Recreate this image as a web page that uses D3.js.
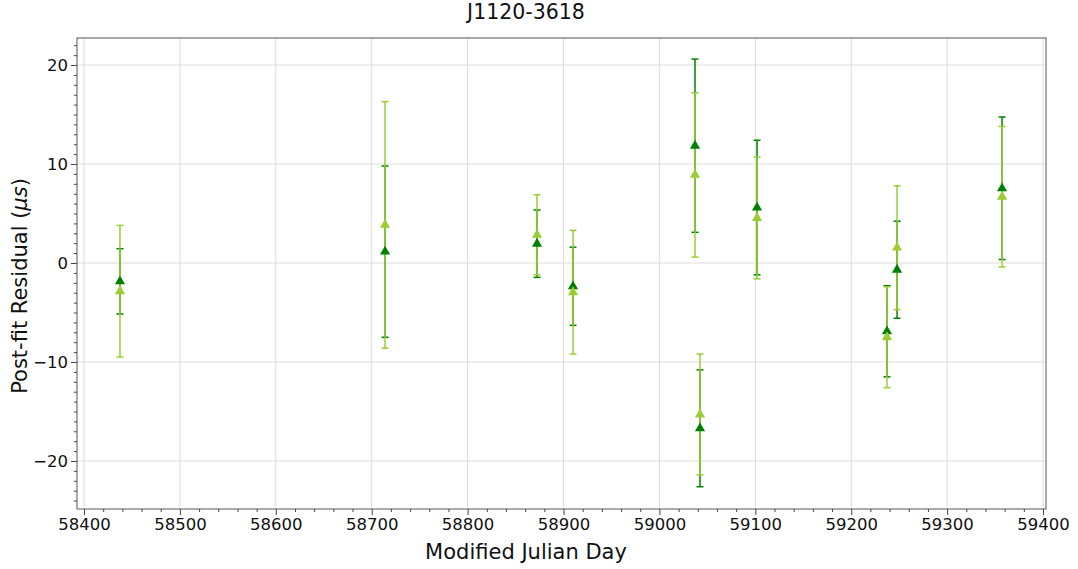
<!DOCTYPE html>
<html><head><meta charset="utf-8">
<script src="https://cdn.jsdelivr.net/npm/d3@7"></script>
<style>body{margin:0;background:#fff}svg{display:block;font-family:"DejaVu Sans",sans-serif}</style>
</head><body><svg id="c" width="1078" height="569"></svg>
<script>
const title = "J1120-3618";
const mjd = [58437.5, 58713.9, 58872.4, 58909.9, 59037.1, 59042.3, 59101.8, 59237.3, 59247.8, 59357.3];
const resGreen = [-1.85, 1.15, 1.95, -2.35, 11.85, -16.7, 5.6, -6.9, -0.68, 7.55];
const errGreen = [3.3, 8.65, 3.4, 3.95, 8.75, 5.9, 6.8, 4.6, 4.9, 7.2];
const resLight = [-2.85, 3.85, 2.85, -2.95, 8.9, -15.3, 4.55, -7.5, 1.55, 6.7];
const errLight = [6.65, 12.45, 4.05, 6.25, 8.3, 6.1, 6.15, 5.1, 6.25, 7.1];
const xTicks = [58400, 58500, 58600, 58700, 58800, 58900, 59000, 59100, 59200, 59300, 59400];
const yTicks = [-20, -10, 0, 10, 20];

const svg = d3.select("#c");
const L = 77, R = 1046, T = 38, B = 509;
const x = d3.scaleLinear().domain([58392.7, 59403.1]).range([L, R]);
const y = d3.scaleLinear().domain([-24.85, 22.73]).range([B, T]);

// grid
const g = svg.append("g");
g.selectAll(".gx").data(xTicks).enter().append("line")
  .attr("x1", d => x(d)).attr("x2", d => x(d)).attr("y1", T).attr("y2", B)
  .attr("stroke", "#dcdcdc").attr("stroke-width", 1);
g.selectAll(".gy").data(yTicks).enter().append("line")
  .attr("y1", d => y(d)).attr("y2", d => y(d)).attr("x1", L).attr("x2", R)
  .attr("stroke", "#dcdcdc").attr("stroke-width", 1);

// axes
const fmt = d => d < 0 ? "\u2212" + Math.abs(d) : String(d);
const xAxis = d3.axisBottom(x).tickValues(xTicks).tickSize(6).tickPadding(3).tickFormat(d => String(d));
const xMinor = d3.axisBottom(x).tickValues(d3.range(58400, 59401, 20).filter(v => v % 100)).tickSize(3).tickFormat("");
const yAxis = d3.axisLeft(y).tickValues(yTicks).tickSize(6).tickPadding(3).tickFormat(fmt);
const yMinor = d3.axisLeft(y).tickValues(d3.range(-24, 23, 1).filter(v => v % 10)).tickSize(3).tickFormat("");

function styleAxis(sel) {
  sel.select(".domain").remove();
  sel.selectAll("line").attr("stroke", "#444");
  sel.selectAll("text").attr("fill", "#111").style("font-size", "16.5px").style("font-family", "DejaVu Sans");
}
svg.append("g").attr("transform", `translate(0,${B})`).call(xMinor).call(styleAxis);
svg.append("g").attr("transform", `translate(0,${B})`).call(xAxis).call(styleAxis);
svg.append("g").attr("transform", `translate(${L},0)`).call(yMinor).call(styleAxis);
svg.append("g").attr("transform", `translate(${L},0)`).call(yAxis).call(styleAxis);

// frame
svg.append("rect").attr("x", L).attr("y", T).attr("width", R - L).attr("height", B - T)
  .attr("fill", "none").attr("stroke", "#555").attr("stroke-width", 1);

// error bars
const series = [
  {res: resGreen, err: errGreen, color: "#008000"},
  {res: resLight, err: errLight, color: "#9acd32"}
];
const pts = s => mjd.map((m, i) => ({m, v: s.res[i], e: s.err[i]}));
const eb = svg.append("g");
series.forEach(s => {
  const grp = eb.append("g").attr("stroke", s.color).attr("stroke-width", 1.5).attr("fill", "none");
  pts(s).forEach(p => {
    const cx = x(p.m);
    grp.append("line").attr("x1", cx).attr("x2", cx).attr("y1", y(p.v - p.e)).attr("y2", y(p.v + p.e));
    [p.v - p.e, p.v + p.e].forEach(c => grp.append("line")
      .attr("x1", cx - 3.5).attr("x2", cx + 3.5).attr("y1", y(c)).attr("y2", y(c)));
  });
});
const tri = d3.symbol().type(d3.symbolTriangle).size(45);
series.forEach(s => {
  svg.append("g").selectAll("path").data(pts(s)).enter().append("path")
    .attr("d", tri).attr("transform", d => `translate(${x(d.m)},${y(d.v)})`)
    .attr("fill", s.color);
});

// texts
const cxText = 526;
svg.append("text").attr("x", cxText).attr("y", 19).attr("text-anchor", "middle")
  .style("font-size", "20.5px").attr("fill", "#111").text(title);
svg.append("text").attr("x", cxText).attr("y", 559).attr("text-anchor", "middle")
  .style("font-size", "21px").attr("fill", "#111").text("Modified Julian Day");
const yl = svg.append("text").attr("transform", `translate(27,286) rotate(-90)`)
  .attr("text-anchor", "middle").style("font-size", "21px").attr("fill", "#111");
yl.append("tspan").text("Post-fit Residual (");
yl.append("tspan").style("font-style", "italic").text("\u03bcs");
yl.append("tspan").text(")");
</script></body></html>
